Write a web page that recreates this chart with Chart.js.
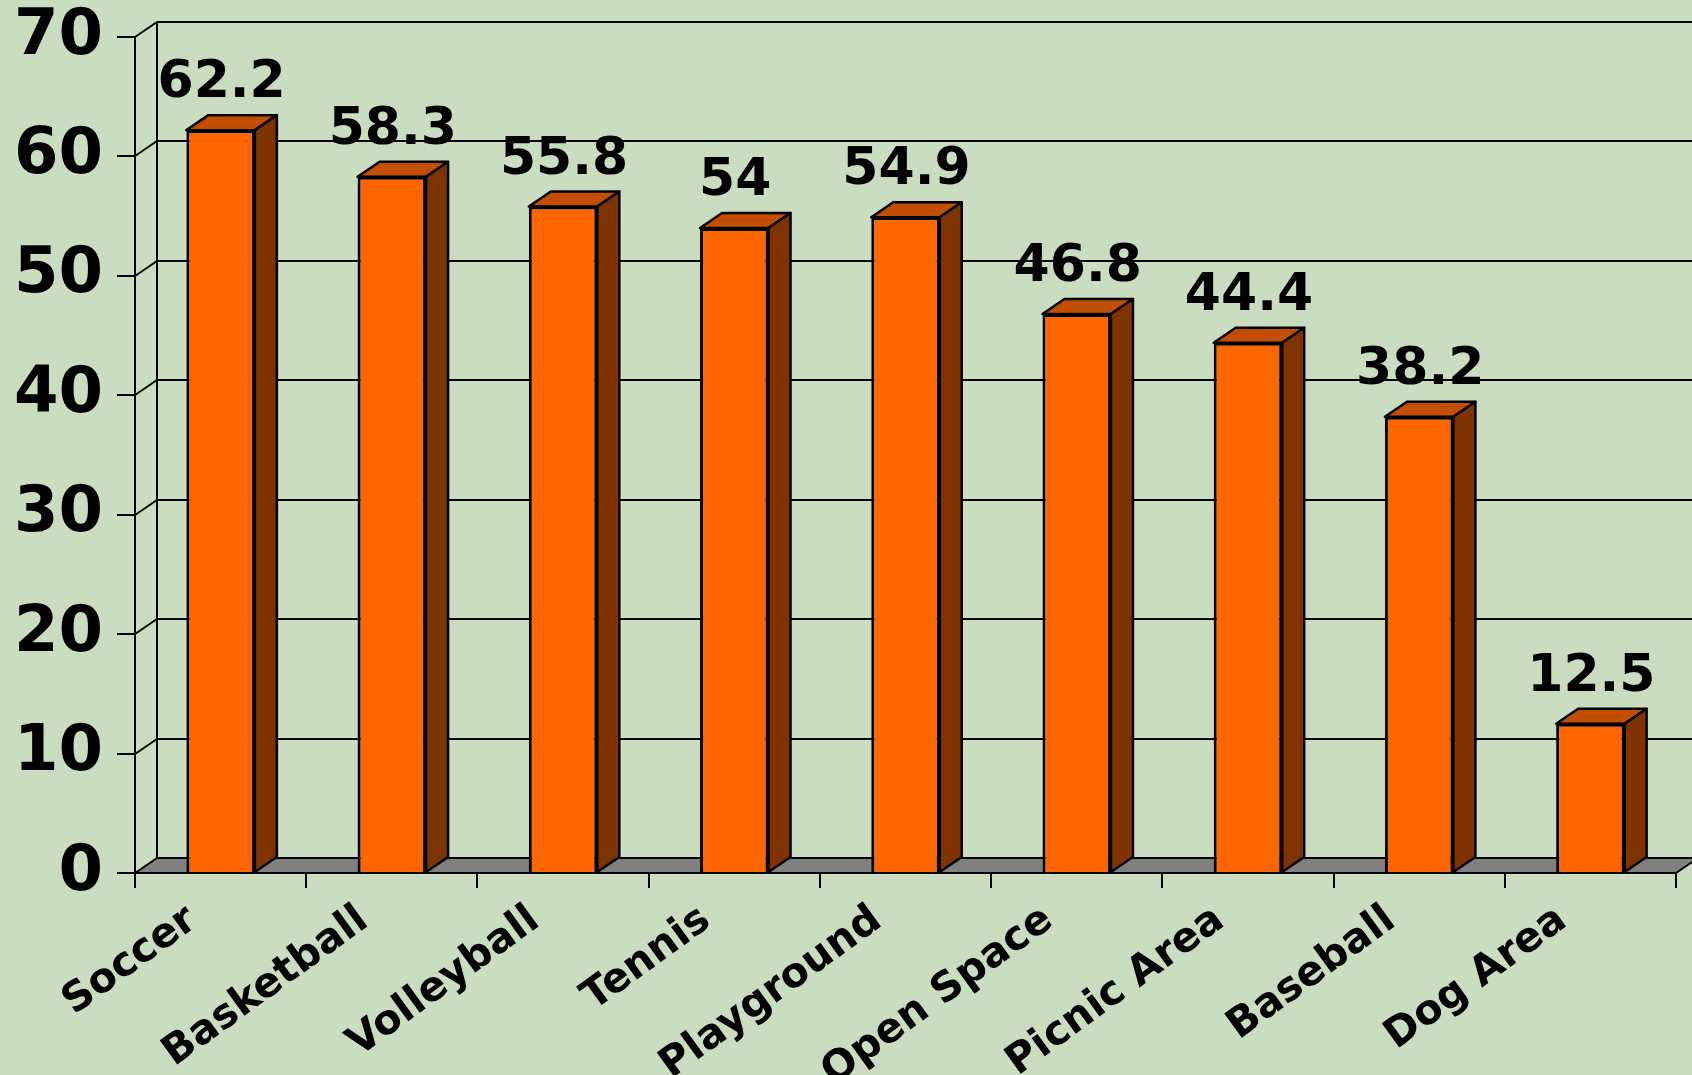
<!DOCTYPE html>
<html>
<head>
<meta charset="utf-8">
<script src="https://cdn.jsdelivr.net/npm/chart.js@4.4.1/dist/chart.umd.min.js"></script>
<style>
  html, body { margin: 0; padding: 0; background: #CBDDC1; }
  #wrap { width: 1692px; height: 1075px; }
</style>
</head>
<body>
<div id="wrap"><canvas id="chart" width="1692" height="1075"></canvas></div>
<script>
const CATEGORIES = ['Soccer', 'Basketball', 'Volleyball', 'Tennis', 'Playground', 'Open Space', 'Picnic Area', 'Baseball', 'Dog Area']
const VALUES = [62.2, 58.3, 55.8, 54, 54.9, 46.8, 44.4, 38.2, 12.5]
const Y_TICKS = [0, 10, 20, 30, 40, 50, 60, 70]

const FRONT = '#FF6600'
const TOP = '#C24F00'
const SIDE = '#7F3300'
const FLOOR = '#808080'
const DX = 22
const DY = 15
const FONT = '"DejaVu Sans", sans-serif'

// helpers
function poly(ctx, pts, fill) {
  ctx.beginPath()
  ctx.moveTo(pts[0][0], pts[0][1])
  pts.slice(1).forEach(p => ctx.lineTo(p[0], p[1]))
  ctx.closePath()
  if (fill) {
    ctx.fillStyle = fill
    ctx.fill()
  }
  ctx.stroke()
}

// back wall, left wall and floor
const walls = {
  id: 'walls',
  beforeDatasetsDraw(chart) {
    const { ctx, chartArea: a, scales: { y } } = chart
    const y0 = y.getPixelForValue(0)
    ctx.save()
    ctx.strokeStyle = '#000'
    ctx.lineWidth = 2
    ctx.lineJoin = 'round'
    Y_TICKS.forEach(v => {
      if (v === 0) return
      const py = Math.round(y.getPixelForValue(v))
      ctx.beginPath()
      ctx.moveTo(a.left, py)
      ctx.lineTo(a.left + DX, py - DY)
      ctx.lineTo(chart.width + 5, py - DY)
      ctx.stroke()
    })
    ctx.beginPath()
    ctx.moveTo(a.left + DX, y.getPixelForValue(70) - DY)
    ctx.lineTo(a.left + DX, y0 - DY)
    ctx.stroke()
    poly(ctx, [[a.left, y0], [a.left + DX, y0 - DY], [a.right + DX, y0 - DY], [a.right, y0]], FLOOR)
    ctx.restore()
  }
}

// bar tops, sides and value labels
const bars3d = {
  id: 'bars3d',
  afterDatasetsDraw(chart) {
    const { ctx } = chart
    const meta = chart.getDatasetMeta(0)
    ctx.save()
    ctx.strokeStyle = '#000'
    ctx.lineWidth = 2.5
    ctx.lineJoin = 'round'
    meta.data.forEach((bar, i) => {
      const { x, y, base, width } = bar.getProps(['x', 'y', 'base', 'width'], true)
      const l = x - width / 2
      const r = x + width / 2
      poly(ctx, [[l, y], [l + DX, y - DY], [r + DX, y - DY], [r, y]], TOP)
      poly(ctx, [[r, y], [r + DX, y - DY], [r + DX, base - DY], [r, base]], SIDE)
      ctx.fillStyle = '#000'
      ctx.font = 'bold 52px ' + FONT
      ctx.textAlign = 'center'
      ctx.textBaseline = 'alphabetic'
      ctx.fillText(String(VALUES[i]), x + 1, y - 33)
    })
    ctx.restore()
  }
}

function createChart() {
  const ctx = document.getElementById('chart')
  const config = {
    type: 'bar',
    data: {
      labels: CATEGORIES,
      datasets: [{
        data: VALUES,
        backgroundColor: FRONT,
        borderColor: '#000',
        borderWidth: 3,
        barPercentage: 0.4,
        categoryPercentage: 1
      }]
    },
    options: {
      responsive: false,
      animation: false,
      devicePixelRatio: 1,
      layout: { padding: { top: 37, right: 16, left: 0, bottom: 0 } },
      plugins: {
        legend: { display: false },
        tooltip: { enabled: false }
      },
      scales: {
        x: {
          afterFit: s => {
            s.height = 202
            s.paddingLeft = 0
            s.paddingRight = 0
          },
          grid: { display: true, drawOnChartArea: false, tickLength: 15, color: '#000', lineWidth: 2, offset: true },
          border: { display: true, color: '#000', width: 2 },
          ticks: {
            color: '#000',
            font: { family: FONT, size: 41, weight: 'bold' },
            maxRotation: 36,
            minRotation: 36,
            autoSkip: false,
            labelOffset: -28,
            padding: 8
          }
        },
        y: {
          min: 0,
          max: 70,
          afterFit: s => {
            s.width = 135
            s.paddingTop = 0
            s.paddingBottom = 0
          },
          grid: { display: true, drawOnChartArea: false, tickLength: 18, color: '#000', lineWidth: 2 },
          border: { display: true, color: '#000', width: 2 },
          ticks: {
            stepSize: 10,
            color: '#000',
            padding: 14,
            font: { family: FONT, size: 64, weight: 'bold' }
          }
        }
      }
    },
    plugins: [walls, bars3d]
  }
  return new Chart(ctx, config)
}

createChart()
</script>
</body>
</html>
